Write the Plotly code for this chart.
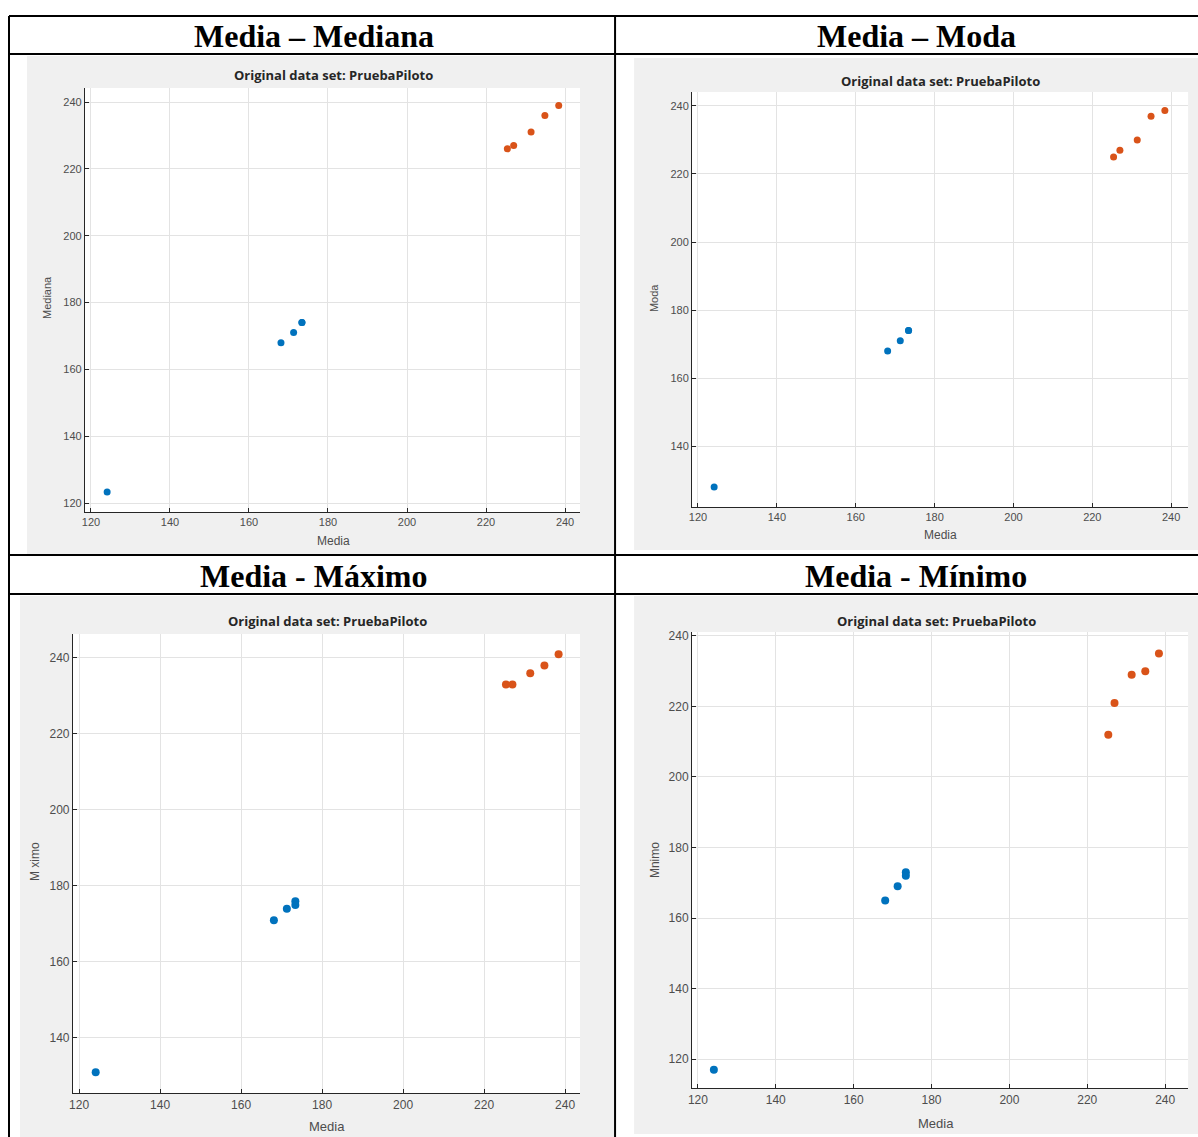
import plotly.graph_objects as go

W, H = 1198, 1137

# ---------------- data ----------------
media_azul = [124.1, 168.1, 171.3, 173.4, 173.4]
media_naranja = [225.4, 227.0, 231.4, 234.9, 238.4]

mediana_azul = [123.3, 168.0, 171.0, 174.0, 174.0]
mediana_naranja = [226.0, 227.0, 231.0, 236.0, 239.0]
moda_azul = [128.0, 168.0, 171.0, 174.0, 174.0]
moda_naranja = [225.0, 227.0, 230.0, 237.0, 238.7]
maximo_azul = [131.0, 171.0, 174.0, 176.0, 175.0]
maximo_naranja = [233.0, 233.0, 236.0, 238.0, 241.0]
minimo_azul = [117.0, 165.0, 169.0, 173.0, 172.0]
minimo_naranja = [212.0, 221.0, 229.0, 230.0, 235.0]

encabezados = ["Media – Mediana", "Media – Moda", "Media - Máximo", "Media - Mínimo"]
etiquetas_y = ["Mediana", "Moda", "M ximo", "Mnimo"]
etiqueta_x = "Media"
titulo_interno = "Original data set: PruebaPiloto"
ticks_x = [120, 140, 160, 180, 200, 220, 240]
ticks_y = [120, 140, 160, 180, 200, 220, 240]

series_y = [
    (mediana_azul, mediana_naranja),
    (moda_azul, moda_naranja),
    (maximo_azul, maximo_naranja),
    (minimo_azul, minimo_naranja),
]

# ---------------- layout geometry (pixels) ----------------
panels = [
    dict(plot=(85, 580, 88, 512), xr=(118.5, 243.8), yr=(117.3, 244.2),
         gray=(27, 614, 56, 554), title=(333, 75), xlab=(333, 541), ylab=(47, 298),
         fs=11, ms=7, header=(314, 36)),
    dict(plot=(692, 1188, 92, 507), xr=(118.5, 244.3), yr=(122.1, 244.1),
         gray=(634, 1198, 58, 550), title=(940, 81), xlab=(940, 535), ylab=(654, 298),
         fs=11, ms=7, header=(916, 36)),
    dict(plot=(73, 580, 634, 1093), xr=(118.5, 243.7), yr=(125.5, 246.3),
         gray=(20, 614, 596, 1137), title=(327, 621), xlab=(327, 1126), ylab=(35, 862),
         fs=12, ms=8, header=(314, 576)),
    dict(plot=(692, 1188, 632, 1088), xr=(118.5, 245.9), yr=(111.8, 241.1),
         gray=(634, 1198, 596, 1134), title=(936, 621), xlab=(936, 1123), ylab=(655, 860),
         fs=12, ms=8, header=(916, 576)),
]

AZUL = "#0072BD"
NARANJA = "#D95319"
TXT = "#4d4d4d"


def px(x):
    x = (x - 4.0) / 0.99656
    return x / W


def py(y):
    y = (y - 3.0) / 0.9973
    return 1 - y / H


fig = go.Figure()
shapes = []
annotations = []

for i, p in enumerate(panels):
    n = i + 1
    xa = "x" if n == 1 else f"x{n}"
    ya = "y" if n == 1 else f"y{n}"
    yb, ro = series_y[i]
    fig.add_trace(go.Scatter(x=media_azul, y=yb, mode="markers", xaxis=xa, yaxis=ya,
                             marker=dict(color=AZUL, size=p["ms"]), showlegend=False,
                             cliponaxis=False))
    fig.add_trace(go.Scatter(x=media_naranja, y=ro, mode="markers", xaxis=xa, yaxis=ya,
                             marker=dict(color=NARANJA, size=p["ms"]), showlegend=False,
                             cliponaxis=False))
    x0, x1, y0, y1 = p["plot"]
    axcommon = dict(showline=True, linecolor="#262626", linewidth=1.2, ticks="inside",
                    ticklen=4, tickcolor="#262626", showgrid=True, gridcolor="#e3e3e3",
                    gridwidth=1, zeroline=False,
                    tickfont=dict(family="Liberation Sans, Arial", size=p["fs"], color=TXT),
                    tickvals=ticks_x, fixedrange=True)
    xkey = "xaxis" if n == 1 else f"xaxis{n}"
    ykey = "yaxis" if n == 1 else f"yaxis{n}"
    fig.update_layout(**{
        xkey: dict(axcommon, domain=[px(x0), min(1.0, px(x1))], range=list(p["xr"]), anchor=ya),
        ykey: dict(axcommon, domain=[max(0.0, py(y1)), min(1.0, py(y0))], range=list(p["yr"]),
                   anchor=xa, tickvals=ticks_y),
    })
    gx0, gx1, gy0, gy1 = p["gray"]
    shapes.append(dict(type="rect", xref="paper", yref="paper", layer="below",
                       x0=px(gx0), x1=px(gx1), y0=py(gy1), y1=py(gy0),
                       fillcolor="#f0f0f0", line=dict(width=0)))
    shapes.append(dict(type="rect", xref="paper", yref="paper", layer="below",
                       x0=px(x0), x1=px(x1), y0=py(y1), y1=py(y0),
                       fillcolor="#ffffff", line=dict(width=0)))
    tx, ty = p["title"]
    annotations.append(dict(text=f"<b>{titulo_interno}</b>", x=px(tx), y=py(ty), xref="paper",
                            yref="paper", showarrow=False, xanchor="center", yanchor="middle",
                            font=dict(family="Open Sans, Liberation Sans", size=13, color="#262626")))
    lx, ly = p["xlab"]
    annotations.append(dict(text=etiqueta_x, x=px(lx), y=py(ly), xref="paper", yref="paper",
                            showarrow=False, xanchor="center", yanchor="middle",
                            font=dict(family="Liberation Sans, Arial", size=p["fs"] + 1, color=TXT)))
    lx, ly = p["ylab"]
    annotations.append(dict(text=etiquetas_y[i], x=px(lx), y=py(ly), xref="paper", yref="paper",
                            showarrow=False, xanchor="center", yanchor="middle", textangle=-90,
                            font=dict(family="Liberation Sans, Arial", size=p["fs"], color=TXT)))
    hx, hy = p["header"]
    annotations.append(dict(text=f"<b>{encabezados[i]}</b>", x=px(hx), y=py(hy), xref="paper",
                            yref="paper", showarrow=False, xanchor="center", yanchor="middle",
                            font=dict(family="Liberation Serif, Times New Roman, serif", size=32,
                                      color="#000000")))


def hline(y, xa=9, xb=1198):
    return dict(type="line", xref="paper", yref="paper", x0=px(xa), x1=px(xb) + 0.01, y0=py(y),
                y1=py(y), line=dict(color="#000000", width=2), layer="above")


def vline(x, ya=16, yb=1137):
    return dict(type="line", xref="paper", yref="paper", x0=px(x), x1=px(x), y0=py(ya),
                y1=py(yb) - 0.01, line=dict(color="#000000", width=2), layer="above")


shapes += [hline(16), hline(54), hline(555), hline(594), vline(9), vline(615)]

fig.update_layout(width=W, height=H, margin=dict(l=0, r=0, t=0, b=0),
                  paper_bgcolor="#ffffff", plot_bgcolor="rgba(0,0,0,0)",
                  shapes=shapes, annotations=annotations, showlegend=False)

post = (
    "document.documentElement.style.margin='0';"
    "document.documentElement.style.overflow='hidden';"
    "document.body.style.margin='0';document.body.style.overflow='hidden';"
    "var g=document.getElementById('{plot_id}');g.style.display='block';"
)

fig.write_html("out.html", config={"displayModeBar": False}, post_script=post)
